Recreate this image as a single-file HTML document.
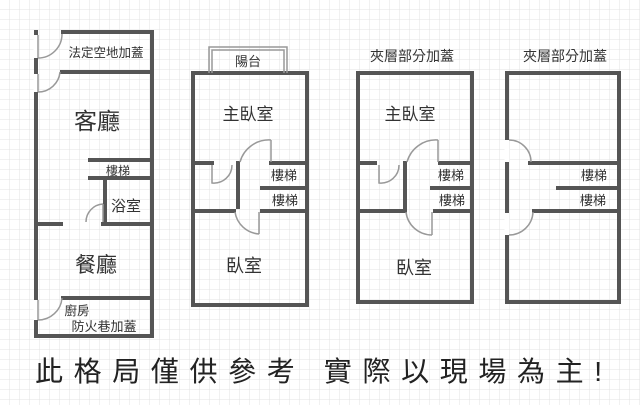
<!DOCTYPE html>
<html><head><meta charset="utf-8"><style>
html,body{margin:0;padding:0;background:#fff;}
svg{display:block;}
text{font-family:"Liberation Sans","Noto Sans CJK TC",sans-serif;fill:#333;}
</style></head><body>
<svg width="640" height="405" viewBox="0 0 640 405" xmlns="http://www.w3.org/2000/svg">
<defs>
<pattern id="g" width="10" height="10" patternUnits="userSpaceOnUse">
<path d="M10 0V10M0 10H10" stroke="#e3e3e3" stroke-width="1" fill="none"/>
</pattern>
</defs>
<rect width="640" height="405" fill="#fff"/>
<rect width="640" height="405" fill="url(#g)"/>
<g stroke="#555" stroke-width="4" fill="none" stroke-linecap="square">
<!-- panel 1 -->
<path d="M36 32V336H152V32H63"/>
<path d="M62 72H152"/>
<path d="M90 160H152M90 178H152"/>
<path d="M105 178V224M103 224H152"/>
<path d="M37 224H61"/>
<path d="M63 298H152"/>
<!-- panel 2 -->
<path d="M193 73H307V305H193Z"/>
<path d="M193 163H212M271 163H307M238 163V207M193 211H234M262 211H307M262 188H307"/>
<!-- panel 3 -->
<path d="M358 73H472V302H358Z"/>
<path d="M358 163H375M440 163H472M405 163V211M358 211H405M435 211H472M432 188H472"/>
<!-- panel 4 -->
<path d="M507 73H619V302H507V73"/>
<path d="M530 163H619M558 188H619M534 211H619"/>
</g>
<!-- door gaps (white over walls) -->
<g stroke="#fff" stroke-width="5">
<path d="M36 35V58M36 74V92M36 300V320"/>
<path d="M507 140V162M507 213V235"/>
</g>
<g stroke="#999" stroke-width="1.5" fill="none">
<path d="M38 35V58M38 74V92M38 300V320"/>
<path d="M38 58A24 24 0 0 0 62 34"/>
<path d="M38 92A22 22 0 0 0 60 72"/>
<path d="M38 320A24 24 0 0 0 62 298"/>
<path d="M103 204V222M86 222A18 18 0 0 1 103 204"/>
<!-- panel 2 doors -->
<path d="M212 165V183A18 18 0 0 0 232 165"/>
<path d="M271 140V162M240 162A30 30 0 0 1 271 140"/>
<path d="M259 212V234M235 212A26 26 0 0 0 259 234"/>
<!-- panel 3 doors -->
<path d="M379 165V183A18 18 0 0 0 399 165"/>
<path d="M438 140V162M407 162A30 30 0 0 1 438 140"/>
<path d="M432 212V235M406 212A26 26 0 0 0 432 235"/>
<!-- panel 4 doors -->
<path d="M509 140A22 22 0 0 1 531 162"/>
<path d="M509 235A24 24 0 0 0 533 212"/>
<!-- balcony -->
<path d="M209 73V47H287V73M212 73V50H284V73"/>
</g>
<g text-anchor="middle">
<text x="106" y="57" font-size="12.5">法定空地加蓋</text>
<text x="97" y="129" font-size="23">客廳</text>
<text x="118" y="175" font-size="12">樓梯</text>
<text x="126" y="211" font-size="15">浴室</text>
<text x="96" y="272" font-size="21">餐廳</text>
<text x="77" y="315" font-size="12.5">廚房</text>
<text x="104" y="331" font-size="13">防火巷加蓋</text>
<text x="248" y="66" font-size="13">陽台</text>
<text x="248" y="120" font-size="17">主臥室</text>
<text x="284" y="180" font-size="13">樓梯</text>
<text x="285" y="205" font-size="13">樓梯</text>
<text x="244" y="272" font-size="18">臥室</text>
<text x="412" y="61" font-size="14">夾層部分加蓋</text>
<text x="410" y="120" font-size="17">主臥室</text>
<text x="451" y="180" font-size="13">樓梯</text>
<text x="452" y="205" font-size="13">樓梯</text>
<text x="414" y="274" font-size="18">臥室</text>
<text x="565" y="61" font-size="14">夾層部分加蓋</text>
<text x="594" y="180" font-size="13">樓梯</text>
<text x="593" y="205" font-size="13">樓梯</text>
</g>
<text x="35" y="381" font-size="28" textLength="567" lengthAdjust="spacing" style="fill:#222">此格局僅供參考 實際以現場為主!</text>
</svg>
</body></html>
